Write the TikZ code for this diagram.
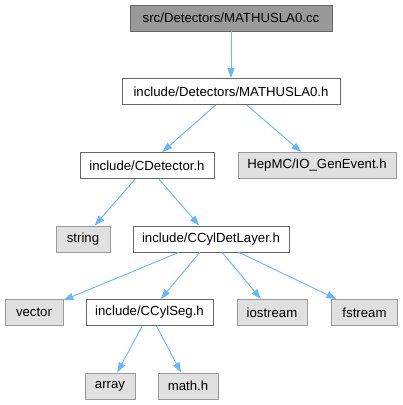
\documentclass[tikz,border=0pt]{standalone}
\usepackage{fontspec}
\setmainfont{Liberation Sans}
\usepackage{tikz}
\usetikzlibrary{arrows.meta, positioning}
\definecolor{edgeblue}{HTML}{63B8FF}
\definecolor{boxborder}{HTML}{666666}
\definecolor{sysborder}{HTML}{999999}
\definecolor{sysfill}{HTML}{E0E0E0}
\definecolor{rootfill}{HTML}{999999}

\begin{document}
\begin{tikzpicture}[x=1pt, y=-1pt,
  file/.style={draw=boxborder, fill=white, line width=0.9pt, minimum height=26pt, inner sep=0pt, font=\fontsize{13.2}{15}\selectfont},
  sysfile/.style={file, draw=sysborder, fill=sysfill},
  rootfile/.style={file, fill=rootfill},
  dep/.style={draw=edgeblue, line width=0.9pt, -{Triangle[length=10pt, width=7pt]}},
]
  \useasboundingbox (0,0) rectangle (403,405);

  % Source file
  \node[rootfile, minimum width=202pt] (root) at (231,18) {src/Detectors/MATHUSLA0.cc};

  % Headers
  \node[file, minimum width=218pt] (mathh) at (231,91.5) {include/Detectors/MATHUSLA0.h};
  \node[file, minimum width=134pt] (cdet) at (147,165.5) {include/CDetector.h};
  \node[sysfile, minimum width=158pt] (hepmc) at (317,165.5) {HepMC/IO\_GenEvent.h};
  \node[sysfile, minimum width=54pt] (string) at (83,239) {string};
  \node[file, minimum width=156pt] (layer) at (211,239) {include/CCylDetLayer.h};
  \node[sysfile, minimum width=58pt] (vector) at (34,312.5) {vector};
  \node[file, minimum width=127pt] (seg) at (149.5,312.5) {include/CCylSeg.h};
  \node[sysfile, minimum width=70pt] (iostream) at (272,312.5) {iostream};
  \node[sysfile, minimum width=66pt] (fstream) at (364.5,312.5) {fstream};
  \node[sysfile, minimum width=50pt] (array) at (110,386) {array};
  \node[sysfile, minimum width=60pt] (mathhdr) at (188,386) {math.h};

  % Includes
  \draw[dep] (root) -- (mathh);
  \draw[dep] (mathh) -- (cdet);
  \draw[dep] (mathh) -- (hepmc);
  \draw[dep] (cdet) -- (string);
  \draw[dep] (cdet) -- (layer);
  \draw[dep] (layer) -- (vector);
  \draw[dep] (layer) -- (seg);
  \draw[dep] (layer) -- (iostream);
  \draw[dep] (layer) -- (fstream);
  \draw[dep] (seg) -- (array);
  \draw[dep] (seg) -- (mathhdr);

\end{tikzpicture}
\end{document}
